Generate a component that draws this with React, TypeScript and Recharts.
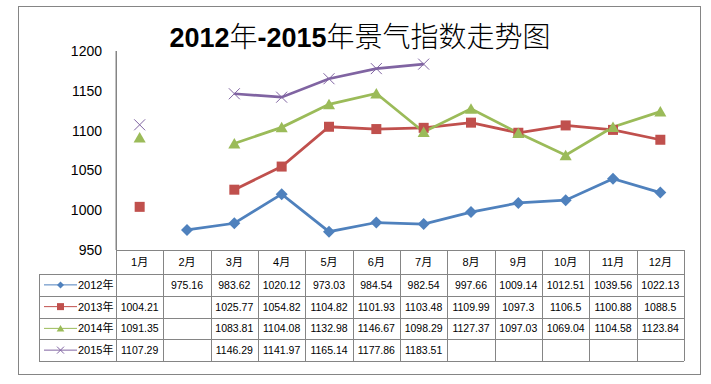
import { LineChart, Line, XAxis, YAxis } from 'recharts'

const months = ['1月', '2月', '3月', '4月', '5月', '6月', '7月', '8月', '9月', '10月', '11月', '12月']
const years = ['2012年', '2013年', '2014年', '2015年']

const s2012 = [null, 975.16, 983.62, 1020.12, 973.03, 984.54, 982.54, 997.66, 1009.14, 1012.51, 1039.56, 1022.13]
const s2013 = [1004.21, null, 1025.77, 1054.82, 1104.82, 1101.93, 1103.48, 1109.99, 1097.3, 1106.5, 1100.88, 1088.5]
const s2014 = [1091.35, null, 1083.81, 1104.08, 1132.98, 1146.67, 1098.29, 1127.37, 1097.03, 1069.04, 1104.58, 1123.84]
const s2015 = [1107.29, null, 1146.29, 1141.97, 1165.14, 1177.86, 1183.51, null, null, null, null, null]

const yTicks = [950, 1000, 1050, 1100, 1150, 1200]

const colors = ['#4F81BD', '#C0504D', '#9BBB59', '#8064A2']
const kinds = ['diamond', 'square', 'triangle', 'cross'] as const
const keys = ['y2012', 'y2013', 'y2014', 'y2015']
const series = [s2012, s2013, s2014, s2015]

const data = months.map((m, i) => ({
  month: m,
  y2012: s2012[i],
  y2013: s2013[i],
  y2014: s2014[i],
  y2015: s2015[i],
}))

// layout of plot / table
const W = 711
const H = 384
const plotLeft = 116
const plotRight = 684
const plotTop = 51
const plotBottom = 250
const colW = (plotRight - plotLeft) / months.length
const legendLeft = 39
const headerBottom = 274
const rowH = 21.75
const gridColor = '#858585'
const font = "'Liberation Sans', 'Noto Sans CJK SC', sans-serif"

const marker = (kind: string, color: string, x: number, y: number, s: number) => {
  if (kind === 'diamond')
    return <polygon points={`${x},${y - s} ${x + s},${y} ${x},${y + s} ${x - s},${y}`} fill={color} />
  if (kind === 'square')
    return <rect x={x - s} y={y - s} width={s * 2} height={s * 2} fill={color} />
  if (kind === 'triangle')
    return <polygon points={`${x},${y - s} ${x + s * 1.1},${y + s * 0.9} ${x - s * 1.1},${y + s * 0.9}`} fill={color} />
  return (
    <g stroke={color} strokeWidth={1}>
      <line x1={x - s} y1={y - s} x2={x + s} y2={y + s} />
      <line x1={x - s} y1={y + s} x2={x + s} y2={y - s} />
    </g>
  )
}

const dotSize = [6, 5, 5.5, 5.5]

const makeDot = (idx: number) => (p: any) => {
  const { cx, cy, index, value } = p
  if (cx == null || cy == null || value == null || isNaN(cy)) return <g key={`d${idx}-${index}`} />
  return <g key={`d${idx}-${index}`}>{marker(kinds[idx], colors[idx], cx, cy, dotSize[idx])}</g>
}

const Table = () => {
  const rowsBottom = headerBottom + rowH * years.length
  const lines = []
  // x axis / header top
  lines.push(<line key="top" x1={plotLeft} y1={plotBottom + 0.5} x2={plotRight} y2={plotBottom + 0.5} />)
  for (let k = 0; k <= months.length; k++) {
    const x = Math.round(plotLeft + k * colW) + 0.5
    lines.push(<line key={`v${k}`} x1={x} y1={k === 0 ? plotTop : plotBottom} x2={x} y2={rowsBottom} />)
  }
  for (let r = 0; r <= years.length; r++) {
    const y = Math.round(headerBottom + r * rowH) + 0.5
    lines.push(<line key={`h${r}`} x1={legendLeft} y1={y} x2={plotRight} y2={y} />)
  }
  lines.push(<line key="lv" x1={legendLeft + 0.5} y1={headerBottom} x2={legendLeft + 0.5} y2={rowsBottom} />)

  return (
    <g>
      <g stroke={gridColor} strokeWidth={1}>{lines}</g>
      {months.map((m, i) => (
        <text key={m} x={plotLeft + colW * (i + 0.5)} y={262} textAnchor="middle" dominantBaseline="central" fontSize={11} fontFamily={font} fill="#000">
          {m}
        </text>
      ))}
      {years.map((yr, r) => {
        const cy = headerBottom + rowH * (r + 0.5)
        return (
          <g key={yr}>
            <line x1={44} y1={cy} x2={77} y2={cy} stroke={colors[r]} strokeWidth={1} />
            {marker(kinds[r], colors[r], 60.5, cy, 3.5)}
            <text x={78} y={cy} dominantBaseline="central" fontSize={11} fontFamily={font} fill="#000">
              {yr}
            </text>
            {series[r].map((v, i) =>
              v == null ? null : (
                <text key={i} x={plotLeft + colW * (i + 0.5)} y={cy} textAnchor="middle" dominantBaseline="central" fontSize={10.5} fontFamily={font} fill="#000">
                  {v}
                </text>
              )
            )}
          </g>
        )
      })}
    </g>
  )
}

export default function App() {
  return (
    <div style={{ position: 'absolute', left: 0, top: 0, width: W, height: H, background: '#fff' }}>
      <svg width={W} height={H} style={{ position: 'absolute', left: 0, top: 0 }}>
        <rect x={18.5} y={6.5} width={682} height={368} fill="#fff" stroke={gridColor} strokeWidth={1} />
      </svg>
      <div style={{ position: 'absolute', left: 0, top: 0 }}>
        <LineChart
          width={W}
          height={H}
          data={data}
          margin={{ top: plotTop, right: W - plotRight, bottom: H - plotBottom, left: plotLeft - 60 }}
        >
          <XAxis dataKey="month" hide padding={{ left: colW / 2, right: colW / 2 }} />
          <YAxis
            width={60}
            domain={[950, 1200]}
            ticks={yTicks}
            tickLine={false}
            axisLine={{ stroke: gridColor }}
            tickMargin={8}
            tick={{ fontSize: 14, fill: '#000', fontFamily: font }}
            interval={0}
          />
          {keys.map((k, i) => (
            <Line
              key={k}
              dataKey={k}
              stroke={colors[i]}
              strokeWidth={2.75}
              type="linear"
              dot={makeDot(i)}
              activeDot={false}
              connectNulls={false}
              isAnimationActive={false}
            />
          ))}
        </LineChart>
      </div>
      <svg width={W} height={H} style={{ position: 'absolute', left: 0, top: 0, pointerEvents: 'none' }}>
        <text x={360} y={47} textAnchor="middle" fontSize={27} fontFamily={font} fill="#000">
          <tspan fontWeight="bold">2012</tspan>
          <tspan fontSize={28} fontWeight={300}>年</tspan>
          <tspan fontWeight="bold">-2015</tspan>
          <tspan fontSize={28} fontWeight={300}>年景气指数走势图</tspan>
        </text>
        <Table />
      </svg>
    </div>
  )
}
